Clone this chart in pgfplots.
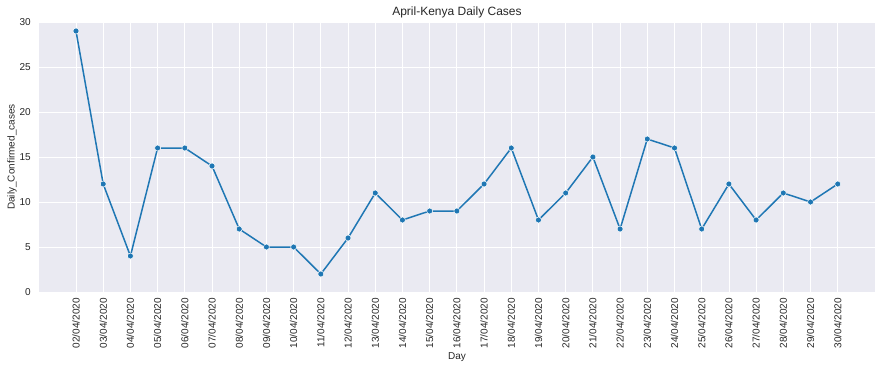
\documentclass[border=0pt]{standalone}
\usepackage{fontspec}
\setmainfont{Liberation Sans}
\usepackage{pgfplots}
\pgfplotsset{compat=1.18}
\definecolor{bg}{HTML}{EAEAF2}
\definecolor{txt}{HTML}{262626}
\definecolor{linec}{HTML}{1F77B4}
\begin{document}
\fontsize{10pt}{12pt}\selectfont
\begin{tikzpicture}
\begin{axis}[
  scale only axis, width=836pt, height=270pt,
  xmin=-1.36, xmax=29.37, ymin=0, ymax=30,
  axis background/.style={fill=bg},
  axis line style={draw=none},
  grid=major, major grid style={white, line width=0.8pt},
  tick style={draw=none},
  /pgf/number format/assume math mode=true,
  xtick={0,...,28},
  xticklabels={02/04/2020,03/04/2020,04/04/2020,05/04/2020,06/04/2020,07/04/2020,08/04/2020,09/04/2020,10/04/2020,11/04/2020,12/04/2020,13/04/2020,14/04/2020,15/04/2020,16/04/2020,17/04/2020,18/04/2020,19/04/2020,20/04/2020,21/04/2020,22/04/2020,23/04/2020,24/04/2020,25/04/2020,26/04/2020,27/04/2020,28/04/2020,29/04/2020,30/04/2020},
  x tick label style={rotate=90, anchor=east, inner sep=0pt, xshift=-6pt, font=\fontsize{10pt}{12pt}\selectfont, text=txt},
  ytick={0,5,...,30},
  y tick label style={anchor=east, inner sep=0pt, xshift=-8pt, font=\fontsize{10pt}{12pt}\selectfont, text=txt},
  title={April-Kenya Daily Cases},
  title style={at={(0.5,1)}, anchor=south, inner sep=0pt, yshift=-2pt, font=\fontsize{12pt}{14pt}\selectfont, text=txt},
  xlabel={Day},
  xlabel style={at={(0.5,0)}, anchor=north, inner sep=0pt, yshift=-60pt, font=\fontsize{10pt}{12pt}\selectfont, text=txt},
  ylabel={Daily\_Confirmed\_cases},
  ylabel style={at={(0,0.5)}, anchor=south, inner sep=0pt, yshift=22pt, font=\fontsize{10pt}{12pt}\selectfont, text=txt},
]
\addplot[color=linec, line width=1.5pt, mark=*, mark size=3pt,
  mark options={fill=linec, draw=white, line width=0.5pt}]
  table[x=i, y=v] {
i v
0 29
1 12
2 4
3 16
4 16
5 14
6 7
7 5
8 5
9 2
10 6
11 11
12 8
13 9
14 9
15 12
16 16
17 8
18 11
19 15
20 7
21 17
22 16
23 7
24 12
25 8
26 11
27 10
28 12
};
\end{axis}
\path ([shift={(-39pt,-78pt)}]current axis.south west) rectangle ([shift={(7pt,22pt)}]current axis.north east);
\end{tikzpicture}
\end{document}
